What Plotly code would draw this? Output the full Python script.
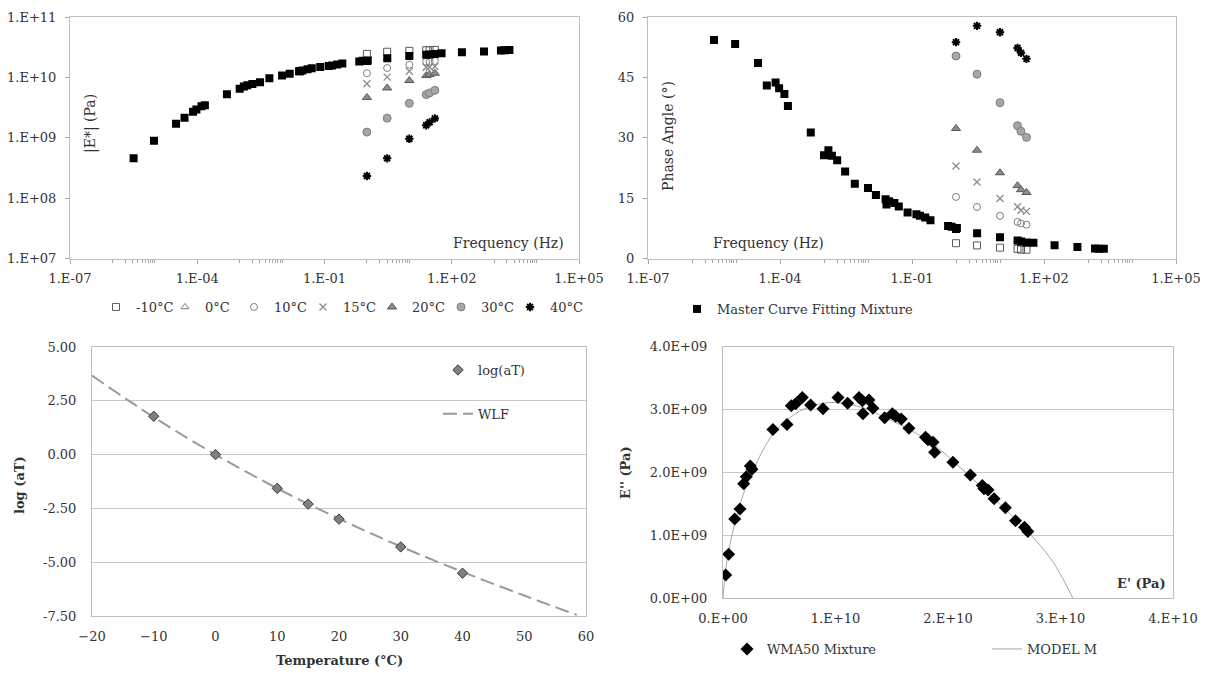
import plotly.graph_objects as go

# page body has an 8px margin: the figure is drawn at (8, 8)
OFF = 8
W, H = 1208 - OFF, 673 - OFF
FONT = "DejaVu Serif"
TXT = "#333333"

# ---------------- data ----------------
test_freq_hz = [1, 3, 10, 25, 30, 40]
temp_labels = ["-10°C", "0°C", "10°C", "15°C", "20°C", "30°C", "40°C"]

# |E*| (Pa) at the test frequencies, per temperature
emod_m10 = [2.45e10, 2.66e10, 2.75e10, 2.82e10, 2.82e10, 2.85e10]
emod_0 = [1.86e10, 2.07e10, 2.26e10, 2.34e10, 2.37e10, 2.40e10]
emod_10 = [1.17e10, 1.43e10, 1.62e10, 1.81e10, 1.81e10, 1.87e10]
emod_15 = [7.83e9, 1.01e10, 1.26e10, 1.47e10, 1.47e10, 1.51e10]
emod_20 = [4.65e9, 6.67e9, 8.87e9, 1.07e10, 1.11e10, 1.17e10]
emod_30 = [1.24e9, 2.11e9, 3.71e9, 5.19e9, 5.53e9, 6.10e9]
emod_40 = [2.32e8, 4.56e8, 9.64e8, 1.61e9, 1.80e9, 2.09e9]

# phase angle (deg) at the test frequencies, per temperature
phase_m10 = [3.8, 3.25, 2.7, 2.4, 2.2, 2.2]
phase_0 = [7.4, 6.3, 5.3, 4.5, 4.3, 4.0]
phase_10 = [15.3, 12.8, 10.6, 9.1, 8.7, 8.4]
phase_15 = [23.0, 19.0, 14.9, 12.85, 12.0, 11.7]
phase_20 = [32.3, 26.9, 21.3, 18.1, 17.1, 16.4]
phase_30 = [50.3, 45.8, 38.7, 33.0, 31.6, 30.1]
phase_40 = [53.75, 57.8, 56.2, 52.3, 51.1, 49.6]

# master curve (reduced frequency, log10 Hz) with fitted |E*| and phase
master_log_freq = [-5.50, -5.02, -4.50, -4.30, -4.10, -4.02, -3.90, -3.82, -3.30, -3.00,
                   -2.90, -2.82, -2.70, -2.52, -2.30, -2.00, -1.82, -1.60, -1.58, -1.52,
                   -1.40, -1.30, -1.10, -0.90, -0.82, -0.70, -0.58, -0.18, -0.10, 0.00,
                   0.02, 0.48, 1.00, 1.40, 1.48, 1.60, 1.76, 2.24, 2.76, 3.16, 3.24, 3.36]
master_modulus = [4.57e8, 8.91e8, 1.70e9, 2.14e9, 2.69e9, 2.95e9, 3.31e9, 3.47e9, 5.25e9, 6.46e9,
                  7.08e9, 7.41e9, 7.76e9, 8.32e9, 9.66e9, 1.07e10, 1.15e10, 1.26e10, 1.26e10, 1.30e10,
                  1.36e10, 1.41e10, 1.48e10, 1.55e10, 1.58e10, 1.64e10, 1.70e10, 1.84e10, 1.88e10, 1.87e10,
                  1.91e10, 2.07e10, 2.26e10, 2.37e10, 2.40e10, 2.43e10, 2.51e10, 2.60e10, 2.69e10, 2.79e10,
                  2.82e10, 2.85e10]
master_phase = [54.3, 53.3, 48.6, 43.0, 43.7, 42.3, 40.9, 37.9, 31.3, 25.65,
                26.9, 25.5, 24.4, 21.6, 18.6, 17.5, 15.8, 14.7, 13.4, 14.2,
                13.8, 12.9, 11.4, 11.0, 10.6, 10.2, 9.5, 8.1, 7.9, 7.3,
                7.6, 6.25, 5.3, 4.5, 4.2, 4.0, 3.9, 3.3, 2.85, 2.5, 2.45, 2.4]

# shift factors
shift_temp = [-10, 0, 10, 15, 20, 30, 40]
shift_log_aT = [1.78, 0.0, -1.57, -2.30, -3.0, -4.29, -5.51]
wlf_temp = [-20, -10, 0, 10, 20, 30, 40, 50, 58.5]
wlf_log_aT = [3.67, 1.74, 0.0, -1.57, -2.98, -4.27, -5.45, -6.55, -7.45]

# Black space
wma_storage = [0.024e10, 0.050e10, 0.104e10, 0.151e10, 0.184e10, 0.207e10, 0.243e10, 0.258e10,
               0.444e10, 0.569e10, 0.607e10, 0.646e10, 0.705e10, 0.779e10, 0.889e10, 1.022e10,
               1.108e10, 1.209e10, 1.239e10, 1.244e10, 1.298e10, 1.333e10, 1.437e10, 1.505e10,
               1.535e10, 1.585e10, 1.653e10, 1.800e10, 1.822e10, 1.867e10, 1.881e10, 2.044e10,
               2.199e10, 2.305e10, 2.320e10, 2.356e10, 2.410e10, 2.510e10, 2.600e10, 2.680e10, 2.710e10]
wma_loss = [0.372e9, 0.70e9, 1.26e9, 1.42e9, 1.82e9, 1.93e9, 2.10e9, 2.05e9,
            2.68e9, 2.76e9, 3.06e9, 3.09e9, 3.19e9, 3.07e9, 3.01e9, 3.19e9,
            3.10e9, 3.19e9, 3.14e9, 2.93e9, 3.15e9, 3.02e9, 2.87e9, 2.93e9,
            2.89e9, 2.85e9, 2.70e9, 2.56e9, 2.52e9, 2.48e9, 2.32e9, 2.16e9,
            1.96e9, 1.79e9, 1.74e9, 1.72e9, 1.58e9, 1.44e9, 1.23e9, 1.13e9, 1.06e9]
model_storage = [0.0, 0.02e10, 0.05e10, 0.10e10, 0.18e10, 0.27e10, 0.44e10, 0.56e10, 0.68e10,
                 0.80e10, 0.95e10, 1.10e10, 1.27e10, 1.42e10, 1.57e10, 1.72e10, 1.87e10,
                 2.02e10, 2.17e10, 2.32e10, 2.47e10, 2.62e10, 2.75e10, 2.90e10, 3.00e10, 3.11e10]
model_loss = [0.0, 0.40e9, 0.75e9, 1.15e9, 1.65e9, 2.05e9, 2.60e9, 2.82e9, 2.97e9,
              3.06e9, 3.11e9, 3.09e9, 3.01e9, 2.89e9, 2.76e9, 2.62e9, 2.45e9,
              2.22e9, 1.98e9, 1.73e9, 1.48e9, 1.22e9, 0.98e9, 0.66e9, 0.38e9, 0.0]

# tick labels
freq_tickvals = [1e-7, 1e-4, 1e-1, 1e2, 1e5]
freq_ticktext = ["1.E-07", "1.E-04", "1.E-01", "1.E+02", "1.E+05"]
emod_tickvals = [1e7, 1e8, 1e9, 1e10, 1e11]
emod_ticktext = ["1.E+07", "1.E+08", "1.E+09", "1.E+10", "1.E+11"]
phase_tickvals = [0, 15, 30, 45, 60]
aT_tickvals = [-7.5, -5.0, -2.5, 0.0, 2.5, 5.0]
aT_ticktext = ["-7.50", "-5.00", "-2.50", "0.00", "2.50", "5.00"]
temp_tickvals = [-20, -10, 0, 10, 20, 30, 40, 50, 60]
black_xvals = [0, 1e10, 2e10, 3e10, 4e10]
black_xtext = ["0.E+00", "1.E+10", "2.E+10", "3.E+10", "4.E+10"]
black_yvals = [0, 1e9, 2e9, 3e9, 4e9]
black_ytext = ["0.0E+00", "1.0E+09", "2.0E+09", "3.0E+09", "4.0E+09"]

# ---------------- styles ----------------
emods = [emod_m10, emod_0, emod_10, emod_15, emod_20, emod_30, emod_40]
phases = [phase_m10, phase_0, phase_10, phase_15, phase_20, phase_30, phase_40]
marker_styles = [
    dict(symbol="square-open", size=7, color="#595959", line=dict(width=1, color="#595959")),
    dict(symbol="triangle-up-open", size=7, color="#7f7f7f", line=dict(width=1, color="#7f7f7f")),
    dict(symbol="circle-open", size=7, color="#7f7f7f", line=dict(width=1, color="#7f7f7f")),
    dict(symbol="x-thin-open", size=7, color="#8c8c8c", line=dict(width=1.3, color="#8c8c8c")),
    dict(symbol="triangle-up", size=8, color="#8c8c8c", line=dict(width=1, color="#595959")),
    dict(symbol="circle", size=8, color="#a6a6a6", line=dict(width=1, color="#7f7f7f")),
    dict(symbol="asterisk-open", size=7, color="#000000", line=dict(width=2, color="#000000")),
]

fig = go.Figure()


def px_x(p):
    return (p - OFF) / W


def px_y(p):
    return 1 - (p - OFF) / H


master_freq = [10 ** v for v in master_log_freq]

# top-left: |E*|
for lab, ys, ms in zip(temp_labels, emods, marker_styles):
    fig.add_trace(go.Scatter(x=test_freq_hz, y=ys, mode="markers", name=lab, marker=ms,
                             xaxis="x", yaxis="y", legend="legend", showlegend=True))
# empty spacer entry so the last legend label is not clipped
fig.add_trace(go.Scatter(x=[None], y=[None], mode="markers", name=" ",
                         marker=dict(size=1, color="rgba(0,0,0,0)",
                                     line=dict(width=0, color="rgba(0,0,0,0)")),
                         xaxis="x", yaxis="y", legend="legend", showlegend=True,
                         hoverinfo="skip"))
fig.add_trace(go.Scatter(x=master_freq, y=master_modulus, mode="markers",
                         name="Master Curve Fitting Mixture",
                         marker=dict(symbol="square", size=8, color="#000000"),
                         xaxis="x", yaxis="y", showlegend=False))

# top-right: phase
for lab, ys, ms in zip(temp_labels, phases, marker_styles):
    fig.add_trace(go.Scatter(x=test_freq_hz, y=ys, mode="markers", name=lab, marker=ms,
                             xaxis="x2", yaxis="y2", showlegend=False))
fig.add_trace(go.Scatter(x=master_freq, y=master_phase, mode="markers",
                         name="Master Curve Fitting Mixture",
                         marker=dict(symbol="square", size=8, color="#000000"),
                         xaxis="x2", yaxis="y2", legend="legend2", showlegend=True))

# bottom-left: shift factors
fig.add_trace(go.Scatter(x=wlf_temp, y=wlf_log_aT, mode="lines", name="WLF",
                         line=dict(color="#9a9a9a", width=2, dash="14px,6px", shape="spline"),
                         xaxis="x3", yaxis="y3", legend="legend3", legendgroup="b",
                         legendrank=2))
fig.add_trace(go.Scatter(x=shift_temp, y=shift_log_aT, mode="markers", name="log(aT)",
                         marker=dict(symbol="diamond", size=8, color="#7f7f7f",
                                     line=dict(width=1, color="#3a3a3a")),
                         xaxis="x3", yaxis="y3", legend="legend3", legendgroup="a",
                         legendrank=1))

# bottom-right: Black space
fig.add_trace(go.Scatter(x=model_storage, y=model_loss, mode="lines", name="MODEL M",
                         line=dict(color="#a6a6a6", width=1, shape="spline"),
                         xaxis="x4", yaxis="y4", legend="legend4", legendrank=2))
fig.add_trace(go.Scatter(x=wma_storage, y=wma_loss, mode="markers", name="WMA50 Mixture",
                         marker=dict(symbol="diamond", size=10, color="#000000"),
                         xaxis="x4", yaxis="y4", legend="legend4", legendrank=1))

tickfont = dict(family=FONT, size=13, color=TXT)
box = dict(showline=True, linecolor="#bfbfbf", linewidth=1, mirror=True, zeroline=False,
           automargin=False, ticklabeloverflow="allow")

minor_vals = []
for k in (-6, -3, 0, 3):
    minor_vals += [m * 10 ** k for m in range(1, 11)]

legfont = dict(family=FONT, size=13, color=TXT)
TOP = 17  # top edge of the upper plots (keeps the top tick labels inside the page)

fig.update_layout(
    width=W, height=H, margin=dict(l=0, r=0, t=0, b=0, autoexpand=False),
    paper_bgcolor="white", plot_bgcolor="white",
    font=dict(family=FONT, size=13, color=TXT),
    xaxis=dict(domain=[px_x(70), px_x(579)], anchor="y", type="log", range=[-7, 5],
               tickvals=freq_tickvals, ticktext=freq_ticktext, ticks="outside", ticklen=4,
               tickcolor="#a6a6a6", showgrid=False, tickfont=tickfont, ticklabelstandoff=4,
               minor=dict(tickvals=minor_vals, ticks="outside", ticklen=3, tickcolor="#a6a6a6",
                          showgrid=False), **box),
    yaxis=dict(domain=[px_y(258.5), px_y(TOP)], anchor="x", type="log", range=[7, 11],
               tickvals=emod_tickvals, ticktext=emod_ticktext, ticks="outside", ticklen=4,
               tickcolor="#a6a6a6", showgrid=False, tickfont=tickfont, ticklabelstandoff=6, **box),
    xaxis2=dict(domain=[px_x(648), px_x(1176)], anchor="y2", type="log", range=[-7, 5],
                tickvals=freq_tickvals, ticktext=freq_ticktext, ticks="outside", ticklen=4,
                tickcolor="#a6a6a6", showgrid=False, tickfont=tickfont, ticklabelstandoff=4,
                minor=dict(tickvals=minor_vals, ticks="outside", ticklen=3, tickcolor="#a6a6a6",
                           showgrid=False), **box),
    yaxis2=dict(domain=[px_y(258.5), px_y(TOP)], anchor="x2", range=[0, 60],
                tickvals=phase_tickvals, ticks="outside", ticklen=4, tickcolor="#a6a6a6",
                showgrid=False, tickfont=tickfont, ticklabelstandoff=6, **box),
    xaxis3=dict(domain=[px_x(92), px_x(586)], anchor="y3", range=[-20, 60],
                tickvals=temp_tickvals, ticks="", showgrid=False, tickfont=tickfont,
                ticklabelstandoff=8, **box),
    yaxis3=dict(domain=[px_y(616), px_y(347)], anchor="x3", range=[-7.5, 5],
                tickvals=aT_tickvals, ticktext=aT_ticktext, ticks="", showgrid=True,
                gridcolor="#c8c8c8", tickfont=tickfont, ticklabelstandoff=12, **box),
    xaxis4=dict(domain=[px_x(723), px_x(1173)], anchor="y4", range=[0, 4e10],
                tickvals=black_xvals, ticktext=black_xtext, ticks="", showgrid=False,
                tickfont=tickfont, ticklabelstandoff=8, **box),
    yaxis4=dict(domain=[px_y(598.3), px_y(346.5)], anchor="x4", range=[0, 4e9],
                tickvals=black_yvals, ticktext=black_ytext, ticks="", showgrid=True,
                gridcolor="#c8c8c8", tickfont=tickfont, ticklabelstandoff=12, **box),
    legend=dict(orientation="h", x=px_x(96), y=px_y(292), xanchor="left", yanchor="top",
                entrywidth=24, entrywidthmode="pixels", bgcolor="rgba(0,0,0,0)",
                font=legfont, itemwidth=30),
    legend2=dict(orientation="h", x=px_x(677), y=px_y(294), xanchor="left", yanchor="top",
                 bgcolor="rgba(0,0,0,0)", font=legfont, itemwidth=30),
    legend3=dict(orientation="v", x=px_x(438), y=px_y(355), xanchor="left", yanchor="top",
                 bgcolor="rgba(0,0,0,0)", font=legfont, tracegroupgap=24, itemwidth=30),
    legend4=dict(orientation="h", x=px_x(727), y=px_y(634), xanchor="left", yanchor="top",
                 entrywidth=215, entrywidthmode="pixels", bgcolor="rgba(0,0,0,0)",
                 font=legfont, itemwidth=30),
    showlegend=True,
)


def ann(text, x, y, angle=0, bold=False, size=13):
    fig.add_annotation(text=f"<b>{text}</b>" if bold else text, xref="paper", yref="paper",
                       x=px_x(x), y=px_y(y), xanchor="center", yanchor="middle",
                       textangle=angle, showarrow=False,
                       font=dict(family=FONT, size=size, color=TXT))


ann("|E*| (Pa)", 90, 124, angle=-90, size=14)
ann("Frequency (Hz)", 508, 243, size=14)
ann("Phase Angle (°)", 668, 136, angle=-90, size=14)
ann("Frequency (Hz)", 768, 243, size=14)
ann("log (aT)", 19, 485, angle=-90, bold=True)
ann("Temperature (°C)", 339, 660, bold=True)
ann("E'' (Pa)", 625, 473, angle=-90, bold=True)
ann("E' (Pa)", 1141, 583, bold=True)

fig.write_html("out.html")
